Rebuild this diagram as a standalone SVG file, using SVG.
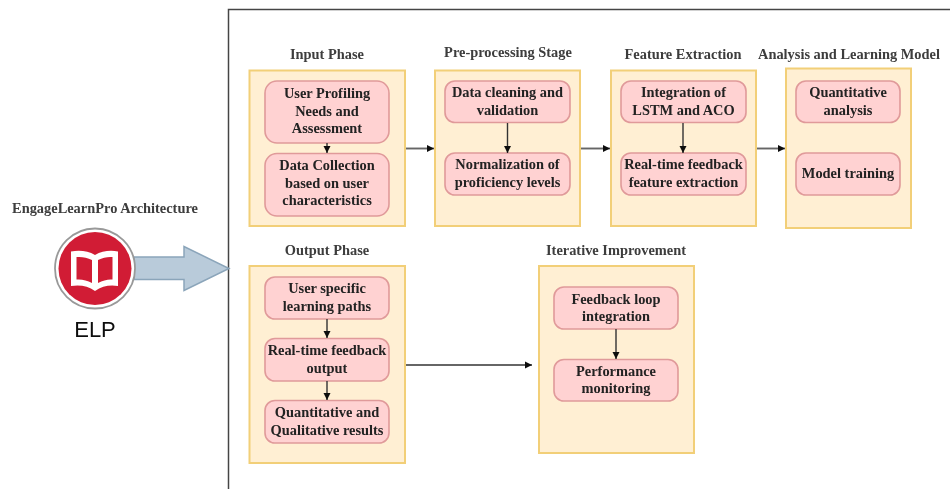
<svg xmlns="http://www.w3.org/2000/svg" width="950" height="489" viewBox="0 0 950 489">
<defs>
<style>
.panel{fill:#ffefd3;stroke:#f2cf78;stroke-width:2}
.box{fill:#ffd2d2;stroke:#e09a9a;stroke-width:1.6}
text{font-family:"Liberation Serif","Times New Roman",serif;font-weight:bold;font-size:14.4px;fill:#222;text-anchor:middle}
.title{fill:#3c3c3c}
.con{fill:none;stroke:#333;stroke-width:1.4;marker-end:url(#ah)}
.thick{stroke:#666;stroke-width:1.900}
</style>
<marker id="ah" markerUnits="userSpaceOnUse" markerWidth="9" markerHeight="9" refX="7" refY="4" orient="auto"><path d="M0 0.500L7 4L0 7.500Z" fill="#111"/></marker>
<filter id="soft" x="-2%" y="-2%" width="104%" height="104%"><feGaussianBlur stdDeviation="0.45"/></filter>
</defs>
<rect width="950" height="489" fill="#fff"/>
<g filter="url(#soft)">
<path d="M950 9.500H228.500V489" fill="none" stroke="#444" stroke-width="1.500"/>

<g id="architecture-title"><text class="title" x="105" y="213">EngageLearnPro Architecture</text></g>
<g id="elp-arrow"><path d="M134 257H184V246.500L229 268.500L184 290.500V279.500H134Z" fill="#b9cbda" stroke="#8ba5ba" stroke-width="1.500"/></g>
<g id="elp">
<circle cx="95" cy="268.500" r="40" fill="#fff" stroke="#999" stroke-width="1.800"/>
<circle cx="95" cy="268.500" r="36.500" fill="#d11f35"/>
<path d="M95 255C88 251 80 250 71 251.500V286C80 284.500 88 286 95 291C102 286 110 284.500 118 286V251.500C110 250 102 251 95 255Z" fill="#fff"/>
<path d="M92 260C87 257.500 82 256.500 76.500 257V279.500C82 279 87 280.500 92 283ZM98 260C103 257.500 108 256.500 112.500 257V279.500C108 279 103 280.500 98 283Z" fill="#d11f35"/>
<text x="95" y="337" style="font-family:'Liberation Sans',Arial,sans-serif;font-weight:normal;font-size:22px;fill:#111">ELP</text>
</g>

<g id="input-phase">
<text class="title" x="327" y="59">Input Phase</text>
<rect class="panel" x="249.500" y="70.500" width="155.500" height="155.500"/>
<rect class="box" x="265" y="81" width="124" height="62" rx="12"/>
<text x="327" y="98">User Profiling</text><text x="327" y="116">Needs and</text><text x="327" y="133">Assessment</text>
<rect class="box" x="265" y="153.500" width="124" height="62.500" rx="12"/>
<text x="327" y="170">Data Collection</text><text x="327" y="188">based on user</text><text x="327" y="205">characteristics</text>
</g>

<g id="preprocessing-stage">
<text class="title" x="508" y="57">Pre-processing Stage</text>
<rect class="panel" x="435" y="70.500" width="145" height="155.500"/>
<rect class="box" x="445" y="81" width="125" height="41.500" rx="10"/>
<text x="507.500" y="97">Data cleaning and</text><text x="507.500" y="115">validation</text>
<rect class="box" x="445" y="153" width="125" height="42" rx="10"/>
<text x="507.500" y="169">Normalization of</text><text x="507.500" y="187">proficiency levels</text>
</g>

<g id="feature-extraction">
<text class="title" x="683" y="59">Feature Extraction</text>
<rect class="panel" x="611" y="70.500" width="145" height="155.500"/>
<rect class="box" x="621" y="81" width="125" height="41.500" rx="10"/>
<text x="683.500" y="97">Integration of</text><text x="683.500" y="115">LSTM and ACO</text>
<rect class="box" x="621" y="153" width="125" height="42" rx="10"/>
<text x="683.500" y="169">Real-time feedback</text><text x="683.500" y="187">feature extraction</text>
</g>

<g id="analysis-learning">
<text class="title" x="849" y="59">Analysis and Learning Model</text>
<rect class="panel" x="786" y="68.500" width="125" height="159.500"/>
<rect class="box" x="796" y="81" width="104" height="41.500" rx="10"/>
<text x="848" y="97">Quantitative</text><text x="848" y="115">analysis</text>
<rect class="box" x="796" y="153" width="104" height="42" rx="10"/>
<text x="848" y="178">Model training</text>
</g>

<g id="output-phase">
<text class="title" x="327" y="255">Output Phase</text>
<rect class="panel" x="249.500" y="266" width="155.500" height="197"/>
<rect class="box" x="265" y="277" width="124" height="42" rx="10"/>
<text x="327" y="293">User specific</text><text x="327" y="311">learning paths</text>
<rect class="box" x="265" y="338.500" width="124" height="42.500" rx="10"/>
<text x="327" y="355">Real-time feedback</text><text x="327" y="373">output</text>
<rect class="box" x="265" y="400.500" width="124" height="42.500" rx="10"/>
<text x="327" y="417">Quantitative and</text><text x="327" y="435">Qualitative results</text>
</g>

<g id="iterative-improvement">
<text class="title" x="616" y="255">Iterative Improvement</text>
<rect class="panel" x="539" y="266" width="155" height="187"/>
<rect class="box" x="554" y="287" width="124" height="42" rx="10"/>
<text x="616" y="304">Feedback loop</text><text x="616" y="321">integration</text>
<rect class="box" x="554" y="359.500" width="124" height="41.500" rx="10"/>
<text x="616" y="376">Performance</text><text x="616" y="393">monitoring</text>
</g>

<g id="connectors">
<path class="con thick" d="M406 148.500H434"/>
<path class="con thick" d="M581 148.500H610"/>
<path class="con thick" d="M757 148.500H785"/>
<path class="con thick" d="M406 365H532"/>
<path class="con" d="M327 143V153"/>
<path class="con" d="M507.500 123V153"/>
<path class="con" d="M683 123V153"/>
<path class="con" d="M327 319V338"/>
<path class="con" d="M327 381V400"/>
<path class="con" d="M616 329V359"/>
</g>
</g>
</svg>
